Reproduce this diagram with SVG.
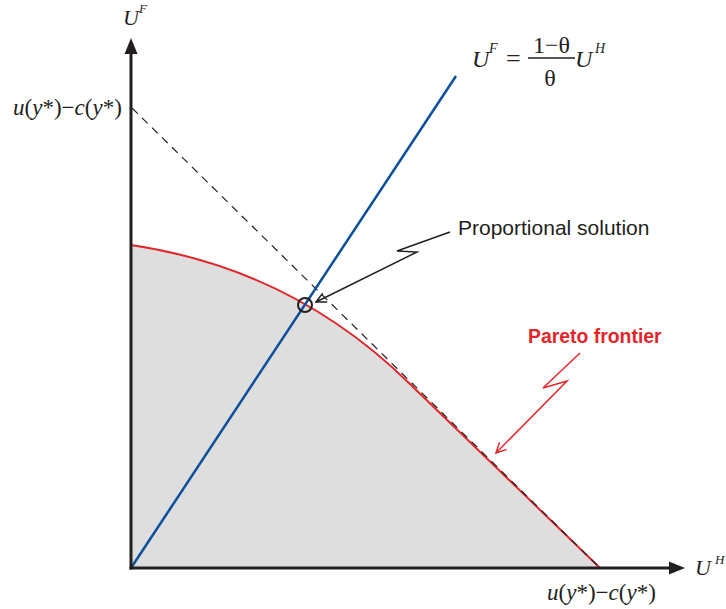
<svg xmlns="http://www.w3.org/2000/svg" width="726" height="609" viewBox="0 0 726 609">
<style>
.serif{font-family:"Liberation Serif","Times New Roman",serif;fill:#231f20}
.it{font-style:italic}
.sans{font-family:"Liberation Sans",Arial,sans-serif}
.axis{stroke:#231f20;stroke-width:3;fill:none}
.callk{stroke:#231f20;stroke-width:1.5;fill:none}
.callr{stroke:#e3262b;stroke-width:1.5;fill:none}
</style>
<defs>
<marker id="vk" viewBox="0 0 12 12" refX="11" refY="6" markerWidth="12" markerHeight="12" markerUnits="userSpaceOnUse" orient="auto">
<path d="M1,1 L11,6 L1,11" fill="none" stroke="#231f20" stroke-width="1.5"/>
</marker>
<marker id="vr" viewBox="0 0 12 12" refX="11" refY="6" markerWidth="12" markerHeight="12" markerUnits="userSpaceOnUse" orient="auto">
<path d="M1,1 L11,6 L1,11" fill="none" stroke="#e3262b" stroke-width="1.5"/>
</marker>
</defs>
<rect width="726" height="609" fill="#fff"/>
<g id="feasible-set">
<path d="M131,568 L131,245 Q293,269 410,384 L600,568 Z" fill="#dedede"/>
</g>
<g id="pareto-frontier">
<path d="M131,245 Q293,269 410,384 L600,568" fill="none" stroke="#e3262b" stroke-width="2"/>
</g>
<g id="budget-line">
<line x1="132" y1="108" x2="600" y2="568" stroke="#231f20" stroke-width="1.2" stroke-dasharray="8 6"/>
</g>
<g id="proportional-ray">
<line x1="131" y1="568" x2="456" y2="76" stroke="#0b4f9c" stroke-width="2.5"/>
</g>
<g id="axes">
<line class="axis" x1="131" y1="569.5" x2="131" y2="50"/>
<polygon points="131,38 124.5,54 137.5,54" fill="#231f20"/>
<line class="axis" x1="129.5" y1="568" x2="670" y2="568"/>
<polygon points="685,568 669,561.5 669,574.5" fill="#231f20"/>
</g>
<g id="proportional-point">
<circle cx="305" cy="305" r="7" fill="none" stroke="#231f20" stroke-width="2"/>
</g>
<g id="connectors">
<polyline class="callk" points="450,232 397,251 417,252 316,302" marker-end="url(#vk)"/>
<polyline class="callr" points="580,353 543,388 567,381 496,453" marker-end="url(#vr)"/>
</g>
<g id="label-UF">
<text class="serif it" x="123" y="25" font-size="22">U</text>
<text class="serif it" x="139" y="13" font-size="13">F</text>
</g>
<g id="label-UH">
<text class="serif it" x="695" y="575" font-size="22">U</text>
<text class="serif it" x="715" y="564" font-size="13">H</text>
</g>
<g id="label-y-intercept">
<text class="serif" x="13" y="115" font-size="23"><tspan class="it">u</tspan>(<tspan class="it">y</tspan>*)−<tspan class="it">c</tspan>(<tspan class="it">y</tspan>*)</text>
</g>
<g id="label-x-intercept">
<text class="serif" x="547" y="600" font-size="23"><tspan class="it">u</tspan>(<tspan class="it">y</tspan>*)−<tspan class="it">c</tspan>(<tspan class="it">y</tspan>*)</text>
</g>
<g id="label-formula">
<text class="serif it" x="472" y="67" font-size="24">U</text>
<text class="serif it" x="489" y="53" font-size="14">F</text>
<text class="serif" x="506" y="67" font-size="26">=</text>
<line x1="528" y1="58" x2="575" y2="58" stroke="#231f20" stroke-width="1.5"/>
<text class="serif" x="551.5" y="53" font-size="24" text-anchor="middle">1−θ</text>
<text class="serif" x="550" y="86" font-size="24" text-anchor="middle">θ</text>
<text class="serif it" x="575" y="67" font-size="24">U</text>
<text class="serif it" x="595" y="53" font-size="14">H</text>
</g>
<g id="label-proportional">
<text class="sans" x="458" y="235" font-size="21" fill="#231f20">Proportional solution</text>
</g>
<g id="label-pareto">
<text class="sans" x="528" y="343" font-size="19.4" font-weight="bold" fill="#e3262b">Pareto frontier</text>
</g>
</svg>
